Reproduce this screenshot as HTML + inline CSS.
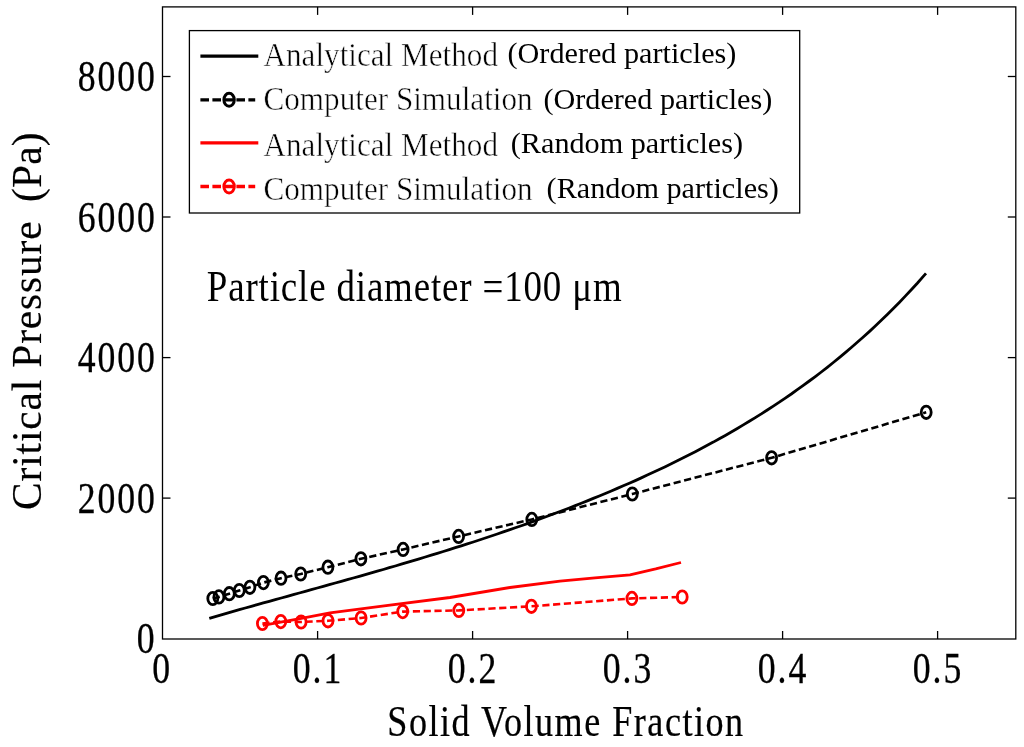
<!DOCTYPE html>
<html><head><meta charset="utf-8"><title>Critical Pressure vs Solid Volume Fraction</title><style>
html,body{margin:0;padding:0;background:#fff;}
body{width:1024px;height:747px;overflow:hidden;font-family:"Liberation Serif",serif;}
svg{display:block;will-change:transform;}
</style></head><body>
<svg width="1024" height="747" viewBox="0 0 1024 747">
<rect width="1024" height="747" fill="#fff"/>
<g stroke="#000" stroke-width="1.30" fill="none">
<rect x="162.50" y="6.90" width="853.30" height="632.10"/>
<line x1="317.6" y1="639.0" x2="317.6" y2="631.0"/>
<line x1="317.6" y1="6.9" x2="317.6" y2="14.9"/>
<line x1="472.6" y1="639.0" x2="472.6" y2="631.0"/>
<line x1="472.6" y1="6.9" x2="472.6" y2="14.9"/>
<line x1="627.6" y1="639.0" x2="627.6" y2="631.0"/>
<line x1="627.6" y1="6.9" x2="627.6" y2="14.9"/>
<line x1="782.6" y1="639.0" x2="782.6" y2="631.0"/>
<line x1="782.6" y1="6.9" x2="782.6" y2="14.9"/>
<line x1="937.6" y1="639.0" x2="937.6" y2="631.0"/>
<line x1="937.6" y1="6.9" x2="937.6" y2="14.9"/>
<line x1="162.5" y1="498.1" x2="170.5" y2="498.1"/>
<line x1="1015.8" y1="498.1" x2="1007.8" y2="498.1"/>
<line x1="162.5" y1="357.6" x2="170.5" y2="357.6"/>
<line x1="1015.8" y1="357.6" x2="1007.8" y2="357.6"/>
<line x1="162.5" y1="217.0" x2="170.5" y2="217.0"/>
<line x1="1015.8" y1="217.0" x2="1007.8" y2="217.0"/>
<line x1="162.5" y1="76.5" x2="170.5" y2="76.5"/>
<line x1="1015.8" y1="76.5" x2="1007.8" y2="76.5"/>
</g>
<g fill="none" stroke-linejoin="round" stroke-linecap="butt">
<polyline points="209.3,618.4 215.3,616.6 221.3,614.9 227.3,613.1 233.3,611.4 239.3,609.7 245.3,608.0 251.3,606.3 257.3,604.6 263.3,602.9 269.3,601.3 275.3,599.6 281.3,598.0 287.3,596.3 293.3,594.6 299.3,593.0 305.3,591.3 311.3,589.7 317.3,588.0 323.3,586.4 329.3,584.7 335.3,583.0 341.3,581.4 347.3,579.7 353.3,578.0 359.3,576.3 365.3,574.6 371.3,572.9 377.3,571.2 383.3,569.5 389.3,567.7 395.3,566.0 401.3,564.2 407.3,562.4 413.3,560.6 419.3,558.8 425.3,557.0 431.3,555.2 437.3,553.4 443.3,551.5 449.3,549.6 455.3,547.7 461.3,545.8 467.3,543.9 473.3,542.0 479.3,540.0 485.3,538.0 491.3,536.0 497.3,534.0 503.3,531.9 509.3,529.9 515.3,527.8 521.3,525.7 527.3,523.6 533.3,521.4 539.3,519.2 545.3,517.0 551.3,514.8 557.3,512.5 563.3,510.3 569.3,508.0 575.3,505.6 581.3,503.3 587.3,500.9 593.3,498.4 599.3,496.0 605.3,493.5 611.3,491.0 617.3,488.4 623.3,485.8 629.3,483.2 635.3,480.6 641.3,477.9 647.3,475.1 653.3,472.3 659.3,469.5 665.3,466.7 671.3,463.8 677.3,460.8 683.3,457.8 689.3,454.8 695.3,451.7 701.3,448.5 707.3,445.3 713.3,442.1 719.3,438.7 725.3,435.4 731.3,432.0 737.3,428.5 743.3,424.9 749.3,421.3 755.3,417.6 761.3,413.9 767.3,410.0 773.3,406.1 779.3,402.2 785.3,398.1 791.3,394.0 797.3,389.7 803.3,385.4 809.3,381.0 815.3,376.6 821.3,372.0 827.3,367.3 833.3,362.5 839.3,357.6 845.3,352.6 851.3,347.5 857.3,342.3 863.3,337.0 869.3,331.6 875.3,326.0 881.3,320.3 887.3,314.4 893.3,308.5 899.3,302.4 905.3,296.1 911.3,289.7 917.3,283.2 923.3,276.4 926.0,273.4" stroke="#000" stroke-width="2.80"/>
<polyline points="262.8,625.3 300.0,618.6 330.0,612.8 390.0,605.2 450.0,597.5 510.0,587.5 560.0,581.2 595.0,577.8 630.0,574.8 655.7,568.9 681.0,562.5" stroke="#f00" stroke-width="2.80"/>
<polyline points="212.8,598.5 218.9,596.9 229.3,593.7 239.3,590.5 249.9,587.3 263.4,582.6 281.0,578.2 300.7,574.0 327.9,567.2 360.9,558.8 403.1,549.4 458.6,536.4 531.8,519.4 632.3,494.0 771.6,457.8 926.2,412.3" stroke="#000" stroke-width="2.60" stroke-dasharray="7.2 3.6"/>
<polyline points="262.4,623.5 280.8,621.6 301.1,622.0 328.0,620.8 361.1,618.0 402.7,611.6 458.8,610.4 531.4,606.3 631.9,598.4 682.2,597.0" stroke="#f00" stroke-width="2.60" stroke-dasharray="7.2 3.6"/>
<ellipse cx="212.8" cy="598.5" rx="5.0" ry="6.2" stroke="#000" stroke-width="2.80"/>
<ellipse cx="218.9" cy="596.9" rx="5.0" ry="6.2" stroke="#000" stroke-width="2.80"/>
<ellipse cx="229.3" cy="593.7" rx="5.0" ry="6.2" stroke="#000" stroke-width="2.80"/>
<ellipse cx="239.3" cy="590.5" rx="5.0" ry="6.2" stroke="#000" stroke-width="2.80"/>
<ellipse cx="249.9" cy="587.3" rx="5.0" ry="6.2" stroke="#000" stroke-width="2.80"/>
<ellipse cx="263.4" cy="582.6" rx="5.0" ry="6.2" stroke="#000" stroke-width="2.80"/>
<ellipse cx="281.0" cy="578.2" rx="5.0" ry="6.2" stroke="#000" stroke-width="2.80"/>
<ellipse cx="300.7" cy="574.0" rx="5.0" ry="6.2" stroke="#000" stroke-width="2.80"/>
<ellipse cx="327.9" cy="567.2" rx="5.0" ry="6.2" stroke="#000" stroke-width="2.80"/>
<ellipse cx="360.9" cy="558.8" rx="5.0" ry="6.2" stroke="#000" stroke-width="2.80"/>
<ellipse cx="403.1" cy="549.4" rx="5.0" ry="6.2" stroke="#000" stroke-width="2.80"/>
<ellipse cx="458.6" cy="536.4" rx="5.0" ry="6.2" stroke="#000" stroke-width="2.80"/>
<ellipse cx="531.8" cy="519.4" rx="5.0" ry="6.2" stroke="#000" stroke-width="2.80"/>
<ellipse cx="632.3" cy="494.0" rx="5.0" ry="6.2" stroke="#000" stroke-width="2.80"/>
<ellipse cx="771.6" cy="457.8" rx="5.0" ry="6.2" stroke="#000" stroke-width="2.80"/>
<ellipse cx="926.2" cy="412.3" rx="5.0" ry="6.2" stroke="#000" stroke-width="2.80"/>
<ellipse cx="262.4" cy="623.5" rx="5.0" ry="6.2" stroke="#f00" stroke-width="2.80"/>
<ellipse cx="280.8" cy="621.6" rx="5.0" ry="6.2" stroke="#f00" stroke-width="2.80"/>
<ellipse cx="301.1" cy="622.0" rx="5.0" ry="6.2" stroke="#f00" stroke-width="2.80"/>
<ellipse cx="328.0" cy="620.8" rx="5.0" ry="6.2" stroke="#f00" stroke-width="2.80"/>
<ellipse cx="361.1" cy="618.0" rx="5.0" ry="6.2" stroke="#f00" stroke-width="2.80"/>
<ellipse cx="402.7" cy="611.6" rx="5.0" ry="6.2" stroke="#f00" stroke-width="2.80"/>
<ellipse cx="458.8" cy="610.4" rx="5.0" ry="6.2" stroke="#f00" stroke-width="2.80"/>
<ellipse cx="531.4" cy="606.3" rx="5.0" ry="6.2" stroke="#f00" stroke-width="2.80"/>
<ellipse cx="631.9" cy="598.4" rx="5.0" ry="6.2" stroke="#f00" stroke-width="2.80"/>
<ellipse cx="682.2" cy="597.0" rx="5.0" ry="6.2" stroke="#f00" stroke-width="2.80"/>
</g>
<g font-family="Liberation Serif, serif">
<text transform="translate(136.70,653.30) scale(0.8300,1.0350)" font-size="43.00" text-anchor="start" fill="#000" letter-spacing="2.30" stroke="#000" stroke-width="0.30">0</text>
<text transform="translate(77.70,512.74) scale(0.8300,1.0350)" font-size="43.00" text-anchor="start" fill="#000" letter-spacing="2.30" stroke="#000" stroke-width="0.30">2000</text>
<text transform="translate(77.70,372.18) scale(0.8300,1.0350)" font-size="43.00" text-anchor="start" fill="#000" letter-spacing="2.30" stroke="#000" stroke-width="0.30">4000</text>
<text transform="translate(77.70,231.62) scale(0.8300,1.0350)" font-size="43.00" text-anchor="start" fill="#000" letter-spacing="2.30" stroke="#000" stroke-width="0.30">6000</text>
<text transform="translate(77.70,91.06) scale(0.8300,1.0350)" font-size="43.00" text-anchor="start" fill="#000" letter-spacing="2.30" stroke="#000" stroke-width="0.30">8000</text>
<text transform="translate(152.30,683.00) scale(0.8300,1.0350)" font-size="43.00" text-anchor="start" fill="#000" letter-spacing="2.30" stroke="#000" stroke-width="0.30">0</text>
<text transform="translate(292.80,683.00) scale(0.8300,1.0350)" font-size="43.00" text-anchor="start" fill="#000" letter-spacing="2.30" stroke="#000" stroke-width="0.30">0.1</text>
<text transform="translate(447.80,683.00) scale(0.8300,1.0350)" font-size="43.00" text-anchor="start" fill="#000" letter-spacing="2.30" stroke="#000" stroke-width="0.30">0.2</text>
<text transform="translate(602.80,683.00) scale(0.8300,1.0350)" font-size="43.00" text-anchor="start" fill="#000" letter-spacing="2.30" stroke="#000" stroke-width="0.30">0.3</text>
<text transform="translate(757.80,683.00) scale(0.8300,1.0350)" font-size="43.00" text-anchor="start" fill="#000" letter-spacing="2.30" stroke="#000" stroke-width="0.30">0.4</text>
<text transform="translate(912.80,683.00) scale(0.8300,1.0350)" font-size="43.00" text-anchor="start" fill="#000" letter-spacing="2.30" stroke="#000" stroke-width="0.30">0.5</text>
<text transform="translate(387.30,735.80) scale(0.8300,1.0000)" font-size="43.50" text-anchor="start" fill="#000" letter-spacing="1.82" stroke="#000" stroke-width="0.25">Solid Volume Fraction</text>
<text transform="translate(41.30,509.90) rotate(-90) scale(0.9720,1.0000)" font-size="42.50" text-anchor="start" fill="#000" letter-spacing="0.92" stroke="#000" stroke-width="0.15">Critical Pressure</text>
<text transform="translate(41.30,202.10) rotate(-90) scale(0.9720,1.0000)" font-size="42.50" text-anchor="start" fill="#000" letter-spacing="0.30" stroke="#000" stroke-width="0.15">(Pa)</text>
<text transform="translate(206.80,300.80) scale(0.8400,1.0000)" font-size="44.00" text-anchor="start" fill="#000" letter-spacing="1.00">Particle diameter =100 μm</text>
</g>
<rect x="189.4" y="30.6" width="610.3" height="182.4" fill="#fff" stroke="#000" stroke-width="1.3"/>
<g fill="none">
<line x1="200.4" y1="56.2" x2="258.3" y2="56.2" stroke="#000" stroke-width="3.3"/>
<line x1="200.4" y1="99.8" x2="255.2" y2="99.8" stroke="#000" stroke-width="3.3" stroke-dasharray="8.6 3.4"/>
<ellipse cx="229.1" cy="99.8" rx="5.2" ry="6.5" stroke="#000" stroke-width="3"/>
<line x1="200.4" y1="142.9" x2="258.3" y2="142.9" stroke="#f00" stroke-width="3.3"/>
<line x1="200.4" y1="186.5" x2="255.2" y2="186.5" stroke="#f00" stroke-width="3.3" stroke-dasharray="8.6 3.4"/>
<ellipse cx="229.1" cy="186.5" rx="5.2" ry="6.5" stroke="#f00" stroke-width="3"/>
</g>
<g font-family="Liberation Serif, serif">
<text transform="translate(263.50,66.30) scale(0.9500,1.0000)" font-size="32.80" text-anchor="start" fill="#000" stroke="#fff" stroke-width="0.50">Analytical Method</text>
<text transform="translate(507.50,62.80) scale(1.0240,1.0000)" font-size="29.50" text-anchor="start" fill="#000">(Ordered particles)</text>
<text transform="translate(263.50,110.30) scale(0.9500,1.0000)" font-size="32.80" text-anchor="start" fill="#000" stroke="#fff" stroke-width="0.50">Computer Simulation</text>
<text transform="translate(543.40,108.80) scale(1.0240,1.0000)" font-size="29.50" text-anchor="start" fill="#000">(Ordered particles)</text>
<text transform="translate(263.50,155.80) scale(0.9500,1.0000)" font-size="32.80" text-anchor="start" fill="#000" stroke="#fff" stroke-width="0.50">Analytical Method</text>
<text transform="translate(510.80,152.80) scale(1.0240,1.0000)" font-size="29.50" text-anchor="start" fill="#000">(Random particles)</text>
<text transform="translate(263.50,200.00) scale(0.9500,1.0000)" font-size="32.80" text-anchor="start" fill="#000" stroke="#fff" stroke-width="0.50">Computer Simulation</text>
<text transform="translate(546.60,197.80) scale(1.0240,1.0000)" font-size="29.50" text-anchor="start" fill="#000">(Random particles)</text>
</g>
</svg>
</body></html>
